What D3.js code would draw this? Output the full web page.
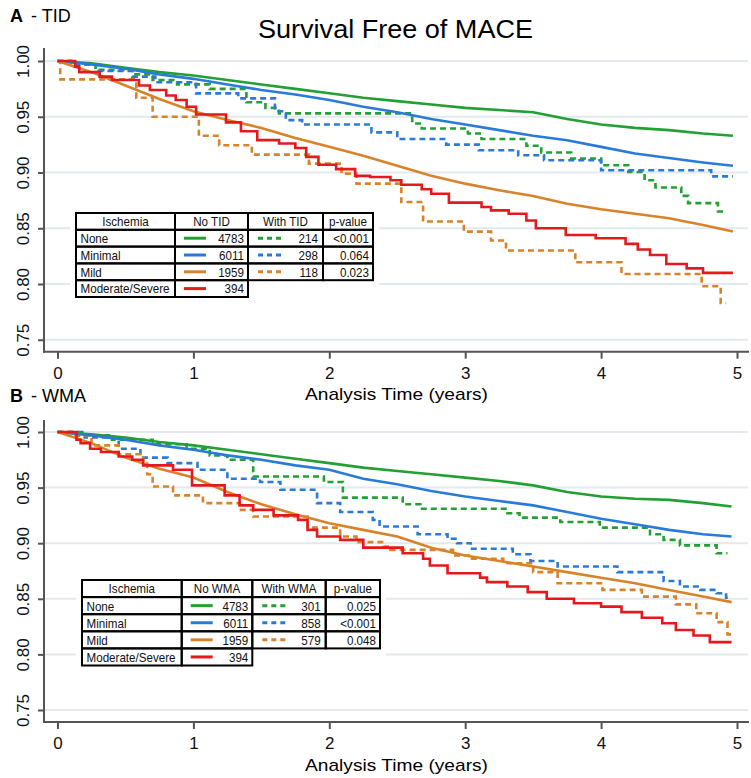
<!DOCTYPE html>
<html><head><meta charset="utf-8">
<script src="https://cdn.jsdelivr.net/npm/d3@7"></script>
<style>body{margin:0;background:#fff}svg{display:block}</style>
</head><body>
<svg id="chart" width="751" height="778"></svg>
<script>
// ---------- DATA ----------
const xTicks = [0, 1, 2, 3, 4, 5];
const yTicks = [0.75, 0.80, 0.85, 0.90, 0.95, 1.00];
const ischemiaLabels = ["None", "Minimal", "Mild", "Moderate/Severe"];

// Panel A (TID)
const A_none_no = [[0,1],[0.25,0.998],[0.5,0.994],[0.75,0.990],[1,0.987],[1.25,0.983],[1.5,0.979],[1.75,0.975],[2,0.971],[2.25,0.967],[2.5,0.964],[2.75,0.961],[3,0.958],[3.25,0.956],[3.5,0.954],[3.75,0.948],[4,0.943],[4.25,0.940],[4.5,0.938],[4.75,0.935],[4.97,0.933]];
const A_min_no = [[0,1],[0.25,0.997],[0.5,0.993],[0.75,0.988],[1,0.984],[1.25,0.979],[1.5,0.974],[1.75,0.970],[2,0.965],[2.25,0.959],[2.5,0.954],[2.75,0.948],[3,0.943],[3.25,0.938],[3.5,0.933],[3.75,0.929],[4,0.923],[4.25,0.917],[4.5,0.913],[4.75,0.909],[4.97,0.906]];
const A_mild_no = [[0,1],[0.25,0.990],[0.5,0.978],[0.75,0.966],[1,0.955],[1.25,0.947],[1.5,0.940],[1.75,0.931],[2,0.923],[2.25,0.915],[2.5,0.906],[2.75,0.897],[3,0.890],[3.25,0.884],[3.5,0.879],[3.75,0.872],[4,0.867],[4.25,0.863],[4.5,0.859],[4.75,0.853],[4.97,0.847]];
const A_mod_no = [[0,1],[0.13,0.995],[0.16,0.990],[0.31,0.986],[0.40,0.983],[0.60,0.978],[0.68,0.974],[0.80,0.969],[0.87,0.965],[0.95,0.959],[1.02,0.952],[1.24,0.945],[1.35,0.937],[1.47,0.929],[1.63,0.926],[1.75,0.922],[1.83,0.914],[1.92,0.907],[2.05,0.903],[2.19,0.897],[2.30,0.896],[2.45,0.893],[2.53,0.889],[2.68,0.885],[2.75,0.881],[2.88,0.873],[3.12,0.869],[3.19,0.866],[3.32,0.863],[3.45,0.857],[3.52,0.850],[3.74,0.844],[3.96,0.841],[4.18,0.836],[4.27,0.831],[4.36,0.826],[4.48,0.818],[4.63,0.814],[4.75,0.810],[4.97,0.810]];
const A_none_with = [[0,1],[0.1,0.997],[0.28,0.992],[0.55,0.988],[0.70,0.983],[0.88,0.979],[1.12,0.975],[1.39,0.963],[1.53,0.958],[1.63,0.953],[2.61,0.944],[2.68,0.9395],[3.02,0.935],[3.12,0.930],[3.45,0.924],[3.56,0.918],[3.78,0.9125],[4.00,0.9065],[4.20,0.9005],[4.32,0.893],[4.40,0.8865],[4.59,0.879],[4.64,0.8725],[4.86,0.865],[4.92,0.865]];
const A_min_with = [[0,1],[0.1,0.997],[0.3,0.991],[0.55,0.986],[0.72,0.981],[1.02,0.971],[1.33,0.9665],[1.6,0.955],[1.68,0.947],[1.80,0.943],[2.31,0.936],[2.50,0.930],[2.86,0.925],[3.1,0.920],[3.39,0.9155],[3.58,0.911],[4.0,0.902],[4.81,0.8965],[4.97,0.8965]];
const A_mild_with = [[0,1],[0.02,0.9835],[0.58,0.967],[0.70,0.950],[1.04,0.933],[1.19,0.9245],[1.43,0.916],[1.85,0.908],[2.09,0.899],[2.20,0.890],[2.53,0.8735],[2.69,0.856],[2.99,0.847],[3.19,0.839],[3.30,0.830],[3.81,0.8195],[4.15,0.809],[4.74,0.798],[4.88,0.783],[4.92,0.783]];
const A_noCounts = [4783, 6011, 1959, 394];
const A_withCounts = [214, 298, 118];
const A_pValues = ["<0.001", "0.064", "0.023"];

// Panel B (WMA)
const B_none_no = [[0,1],[0.25,0.998],[0.5,0.995],[0.75,0.991],[1,0.988],[1.25,0.984],[1.5,0.980],[1.75,0.976],[2,0.972],[2.25,0.968],[2.5,0.965],[2.75,0.962],[3,0.959],[3.25,0.956],[3.5,0.952],[3.75,0.946],[4,0.942],[4.25,0.940],[4.5,0.939],[4.75,0.936],[4.96,0.933]];
const B_min_no = [[0,1],[0.25,0.997],[0.5,0.993],[0.75,0.988],[1,0.984],[1.25,0.979],[1.5,0.975],[1.75,0.970],[2,0.966],[2.25,0.958],[2.5,0.953],[2.75,0.947],[3,0.942],[3.25,0.938],[3.5,0.934],[3.75,0.928],[4,0.922],[4.25,0.917],[4.5,0.912],[4.75,0.908],[4.96,0.906]];
const B_mild_no = [[0,1],[0.25,0.990],[0.5,0.977],[0.75,0.967],[1,0.959],[1.25,0.946],[1.5,0.935],[1.75,0.926],[2,0.918],[2.25,0.912],[2.5,0.906],[2.75,0.896],[3,0.889],[3.25,0.884],[3.5,0.879],[3.75,0.874],[4,0.869],[4.25,0.864],[4.5,0.858],[4.75,0.852],[4.96,0.847]];
const B_mod_no = [[0,1],[0.14,0.993],[0.17,0.990],[0.24,0.985],[0.32,0.982],[0.45,0.978],[0.55,0.975],[0.63,0.970],[0.85,0.966],[0.99,0.952],[1.23,0.943],[1.34,0.934],[1.44,0.930],[1.59,0.925],[1.77,0.921],[1.84,0.912],[1.91,0.906],[2.08,0.903],[2.25,0.896],[2.54,0.891],[2.69,0.886],[2.74,0.880],[2.87,0.873],[3.11,0.869],[3.16,0.865],[3.31,0.861],[3.46,0.856],[3.60,0.850],[3.80,0.846],[4.0,0.843],[4.15,0.838],[4.3,0.833],[4.45,0.828],[4.55,0.822],[4.68,0.817],[4.8,0.811],[4.96,0.811]];
const B_none_with = [[0,1],[0.15,0.997],[0.4,0.993],[0.7,0.989],[0.95,0.985],[1.12,0.979],[1.25,0.975],[1.44,0.960],[1.96,0.955],[2.10,0.941],[2.54,0.935],[2.67,0.931],[3.31,0.927],[3.40,0.923],[3.70,0.919],[3.99,0.914],[4.36,0.908],[4.46,0.903],[4.58,0.898],[4.85,0.891],[4.93,0.891]];
const B_min_with = [[0,1],[0.2,0.995],[0.45,0.985],[0.61,0.977],[0.81,0.972],[1.03,0.966],[1.25,0.958],[1.49,0.955],[1.64,0.948],[1.91,0.936],[2.08,0.928],[2.32,0.921],[2.37,0.915],[2.65,0.908],[2.87,0.904],[2.94,0.900],[3.04,0.895],[3.35,0.890],[3.48,0.884],[3.68,0.879],[4.12,0.874],[4.46,0.866],[4.58,0.861],[4.73,0.858],[4.85,0.855],[4.92,0.851],[4.96,0.851]];
const B_mild_with = [[0,1],[0.1,0.997],[0.25,0.988],[0.45,0.980],[0.63,0.973],[0.66,0.962],[0.70,0.951],[0.85,0.943],[1.07,0.936],[1.34,0.930],[1.44,0.924],[1.84,0.914],[2.08,0.906],[2.20,0.901],[2.40,0.897],[2.45,0.894],[2.91,0.889],[3.04,0.886],[3.28,0.882],[3.50,0.874],[3.68,0.864],[4.01,0.858],[4.3,0.852],[4.55,0.845],[4.7,0.837],[4.85,0.829],[4.93,0.818],[4.96,0.818]];
const B_noCounts = [4783, 6011, 1959, 394];
const B_withCounts = [301, 858, 579];
const B_pValues = ["0.025", "<0.001", "0.048"];

// ---------- STYLE ----------
const colors = {none: "#22a033", min: "#2a7bd8", mild: "#d8832a", mod: "#e5191c"};
const seriesColors = [colors.none, colors.min, colors.mild, colors.mod];
const axisColor = "#555";
const gridColor = "#e3e9ee";
const ARIAL = "Liberation Sans, Arial, sans-serif";
const NARROW_FACTOR = 0.86;

const svg = d3.select("#chart");

svg.append("text").attr("x", 395.5).attr("y", 38).attr("text-anchor", "middle")
  .attr("font-family", ARIAL).attr("font-size", 25)
  .attr("textLength", 275).attr("lengthAdjust", "spacingAndGlyphs")
  .text("Survival Free of MACE");

const panels = [
  {letter: "A", sub: "- TID", labelY: 22, yTop: 48, y1: 61, y75: 339.75, axisY: 351.7,
   solid: [A_none_no, A_min_no, A_mild_no, A_mod_no], dashed: [A_none_with, A_min_with, A_mild_with],
   head: ["Ischemia", "No TID", "With TID", "p-value"],
   noCounts: A_noCounts, withCounts: A_withCounts, pValues: A_pValues,
   cols: [76, 175, 248, 323, 373], rowTop: 213, rowH: 16.8},
  {letter: "B", sub: "- WMA", labelY: 402, yTop: 420, y1: 432, y75: 710, axisY: 722,
   solid: [B_none_no, B_min_no, B_mild_no, B_mod_no], dashed: [B_none_with, B_min_with, B_mild_with],
   head: ["Ischemia", "No WMA", "With WMA", "p-value"],
   noCounts: B_noCounts, withCounts: B_withCounts, pValues: B_pValues,
   cols: [82, 181.7, 252.3, 325.7, 380], rowTop: 580, rowH: 17.1}
];

const x = d3.scaleLinear().domain([0, 5]).range([57.5, 737]);

function narrow(sel) {
  sel.each(function () {
    const L = this.getComputedTextLength();
    d3.select(this).attr("textLength", L * NARROW_FACTOR).attr("lengthAdjust", "spacingAndGlyphs");
  });
}

panels.forEach(p => {
  const g = svg.append("g");
  const y = d3.scaleLinear().domain([0.75, 1.0]).range([p.y75, p.y1]);

  // panel label
  const lab = g.append("text").attr("x", 10).attr("y", p.labelY).attr("font-family", ARIAL);
  lab.append("tspan").attr("font-weight", "bold").attr("font-size", 18).text(p.letter);
  lab.append("tspan").attr("font-size", 18).attr("dx", 8).text(p.sub);

  // gridlines
  g.append("g").selectAll("line").data(yTicks).join("line")
    .attr("x1", 44).attr("x2", 748).attr("y1", d => y(d)).attr("y2", d => y(d))
    .attr("stroke", gridColor).attr("stroke-width", 2);

  // y axis
  const ya = g.append("g").attr("transform", "translate(44,0)")
    .call(d3.axisLeft(y).tickValues(yTicks).tickSize(6).tickFormat(d3.format(".2f")));
  ya.select(".domain").remove();
  ya.selectAll(".tick line").attr("stroke", axisColor).attr("stroke-width", 2);
  ya.selectAll(".tick text").attr("x", 0).attr("dy", "0.36em")
    .attr("transform", "translate(-21,0) rotate(-90)").attr("text-anchor", "middle")
    .attr("font-family", ARIAL).attr("font-size", 17).attr("fill", "#111");
  g.append("line").attr("x1", 44).attr("x2", 44).attr("y1", p.yTop).attr("y2", p.axisY + 1)
    .attr("stroke", axisColor).attr("stroke-width", 2);

  // x axis
  const xa = g.append("g").attr("transform", `translate(0,${p.axisY})`)
    .call(d3.axisBottom(x).tickValues(xTicks).tickSize(7).tickPadding(8).tickFormat(d3.format("d")));
  xa.select(".domain").remove();
  xa.selectAll(".tick line").attr("stroke", axisColor).attr("stroke-width", 2);
  xa.selectAll(".tick text").attr("font-family", ARIAL).attr("font-size", 17).attr("fill", "#111");
  g.append("line").attr("x1", 43).attr("x2", 749).attr("y1", p.axisY).attr("y2", p.axisY)
    .attr("stroke", axisColor).attr("stroke-width", 2);

  g.append("text").attr("x", 396.5).attr("y", p.axisY + 48.5).attr("text-anchor", "middle")
    .attr("font-family", ARIAL).attr("font-size", 17)
    .attr("textLength", 183).attr("lengthAdjust", "spacingAndGlyphs")
    .text("Analysis Time (years)");

  // curves
  const smooth = d3.line().x(d => x(d[0])).y(d => y(d[1]));
  const step = d3.line().x(d => x(d[0])).y(d => y(d[1])).curve(d3.curveStepAfter);
  const cg = g.append("g").attr("fill", "none").attr("stroke-width", 2.6);
  p.dashed.forEach((s, i) => {
    cg.append("path").attr("d", step(s)).attr("stroke", seriesColors[i]).attr("stroke-dasharray", "6,4");
  });
  p.solid.forEach((s, i) => {
    cg.append("path").attr("d", i === 3 ? step(s) : smooth(s)).attr("stroke", seriesColors[i]);
  });

  // table
  const c = p.cols, t = p.rowTop, h = p.rowH;
  const tg = g.append("g").attr("font-family", ARIAL).attr("font-size", 13.5).attr("fill", "#111");
  tg.append("rect").attr("x", c[0] - 6).attr("y", t - 2).attr("width", c[4] - c[0] + 12).attr("height", 5 * h + 4)
    .attr("fill", "#fff");
  const cells = [];
  for (let r = 0; r < 5; r++) {
    const nc = r === 4 ? 2 : 4;
    for (let k = 0; k < nc; k++) cells.push({x: c[k], y: t + r * h, w: c[k + 1] - c[k]});
  }
  tg.selectAll("rect.cell").data(cells).join("rect").attr("class", "cell")
    .attr("x", d => d.x).attr("y", d => d.y).attr("width", d => d.w).attr("height", h)
    .attr("fill", "none").attr("stroke", "#000").attr("stroke-width", 2);
  const texts = [];
  p.head.forEach((txt, k) => {
    texts.push(tg.append("text").attr("x", (c[k] + c[k + 1]) / 2).attr("y", t + h / 2).attr("dy", "0.36em")
      .attr("text-anchor", "middle").text(txt));
  });
  ischemiaLabels.forEach((lbl, r) => {
    const cy = t + (r + 1) * h + h / 2;
    texts.push(tg.append("text").attr("x", c[0] + 4.5).attr("y", cy).attr("dy", "0.36em").text(lbl));
    tg.append("line").attr("x1", c[1] + 9).attr("x2", c[1] + 31).attr("y1", cy).attr("y2", cy)
      .attr("stroke", seriesColors[r]).attr("stroke-width", 3);
    texts.push(tg.append("text").attr("x", c[2] - 4).attr("y", cy).attr("dy", "0.36em").attr("text-anchor", "end").text(p.noCounts[r]));
    if (r < 3) {
      tg.append("line").attr("x1", c[2] + 10).attr("x2", c[2] + 33).attr("y1", cy).attr("y2", cy)
        .attr("stroke", seriesColors[r]).attr("stroke-width", 3).attr("stroke-dasharray", "5,4");
      texts.push(tg.append("text").attr("x", c[3] - 5).attr("y", cy).attr("dy", "0.36em").attr("text-anchor", "end").text(p.withCounts[r]));
      texts.push(tg.append("text").attr("x", c[4] - 4).attr("y", cy).attr("dy", "0.36em").attr("text-anchor", "end").text(p.pValues[r]));
    }
  });
  texts.forEach(narrow);
});
</script>
</body></html>
